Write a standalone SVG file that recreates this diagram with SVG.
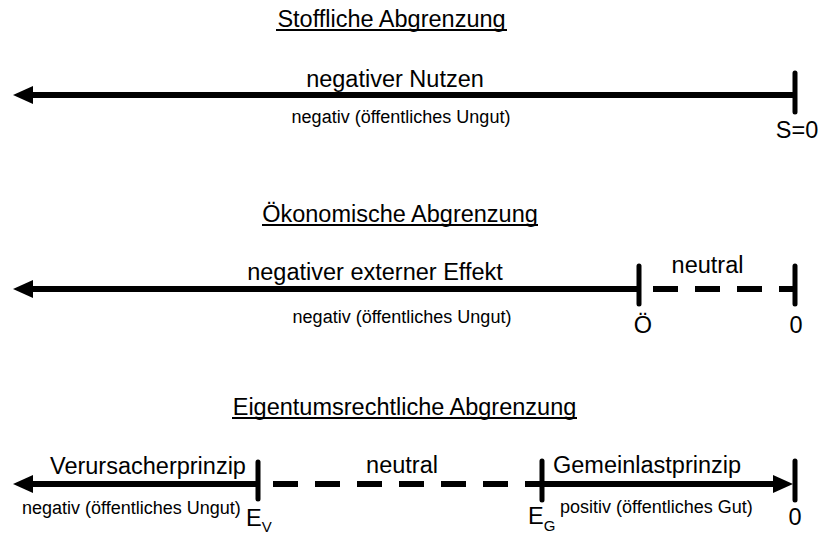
<svg xmlns="http://www.w3.org/2000/svg" width="819" height="534" viewBox="0 0 819 534">
<defs>
<style>
text{font-family:"Liberation Sans",Arial,sans-serif;fill:#000}
.title{font-size:23.5px;text-anchor:middle}
.main{font-size:23.5px}
.small{font-size:18px}
.ul{stroke:#000;stroke-width:2}
.axis{stroke:#000;stroke-width:6;fill:none}
.dash{stroke:#000;stroke-width:6;stroke-dasharray:25 17;fill:none}
.tick{stroke:#000;stroke-width:5;stroke-linecap:round}
</style>
<marker id="ah" markerUnits="userSpaceOnUse" markerWidth="20" markerHeight="18" viewBox="0 0 20 18" refX="10" refY="9" orient="auto">
<path d="M0,0 L20,9 L0,18 z" fill="#000"/>
</marker>
</defs>
<rect width="819" height="534" fill="#fff"/>
<g id="connectors">
<line class="axis" x1="795" y1="95" x2="23" y2="95" marker-end="url(#ah)"/>
<line class="axis" x1="639" y1="289" x2="23" y2="289" marker-end="url(#ah)"/>
<line class="dash" x1="653" y1="289" x2="795" y2="289"/>
<line class="axis" x1="258" y1="484" x2="23" y2="484" marker-end="url(#ah)"/>
<line class="dash" x1="273" y1="484" x2="542" y2="484"/>
<line class="axis" x1="542" y1="484" x2="783" y2="484" marker-end="url(#ah)"/>
</g>
<g id="stofflich">
<text class="title" x="391.5" y="27">Stoffliche Abgrenzung</text>
<line class="ul" x1="276" y1="30" x2="507" y2="30"/>
<text class="main" x="395" y="87" text-anchor="middle">negativer Nutzen</text>
<text class="small" x="401" y="123" text-anchor="middle">negativ (öffentliches Ungut)</text>
</g>
<g id="s0">
<line class="tick" x1="795" y1="73" x2="795" y2="112"/>
<text class="main" x="797" y="138" text-anchor="middle">S=0</text>
</g>
<g id="oekonomisch">
<text class="title" x="400" y="222">Ökonomische Abgrenzung</text>
<line class="ul" x1="262" y1="225" x2="538" y2="225"/>
<text class="main" x="375" y="280" text-anchor="middle">negativer externer Effekt</text>
<text class="small" x="402" y="323" text-anchor="middle">negativ (öffentliches Ungut)</text>
<text class="main" x="707.5" y="273" text-anchor="middle">neutral</text>
</g>
<g id="oe">
<line class="tick" x1="639" y1="266" x2="639" y2="304"/>
<text class="main" x="643" y="333" text-anchor="middle">Ö</text>
</g>
<g id="zero2">
<line class="tick" x1="795" y1="266" x2="795" y2="304"/>
<text class="main" x="796" y="333" text-anchor="middle">0</text>
</g>
<g id="eigentum">
<text class="title" x="404.5" y="415">Eigentumsrechtliche Abgrenzung</text>
<line class="ul" x1="232" y1="418" x2="577" y2="418"/>
<text class="main" x="50" y="474">Verursacherprinzip</text>
<text class="small" x="22" y="514">negativ (öffentliches Ungut)</text>
<text class="main" x="402" y="473" text-anchor="middle">neutral</text>
<text class="main" x="553" y="473">Gemeinlastprinzip</text>
<text class="small" x="560" y="513">positiv (öffentliches Gut)</text>
</g>
<g id="ev">
<line class="tick" x1="258" y1="462" x2="258" y2="499"/>
<text class="main" x="246" y="526">E<tspan font-size="15px" dy="6">V</tspan></text>
</g>
<g id="eg">
<line class="tick" x1="542" y1="461" x2="542" y2="500"/>
<text class="main" x="528" y="524">E<tspan font-size="15px" dy="7">G</tspan></text>
</g>
<g id="zero3">
<line class="tick" x1="795" y1="461" x2="795" y2="500"/>
<text class="main" x="795" y="525" text-anchor="middle">0</text>
</g>
</svg>
